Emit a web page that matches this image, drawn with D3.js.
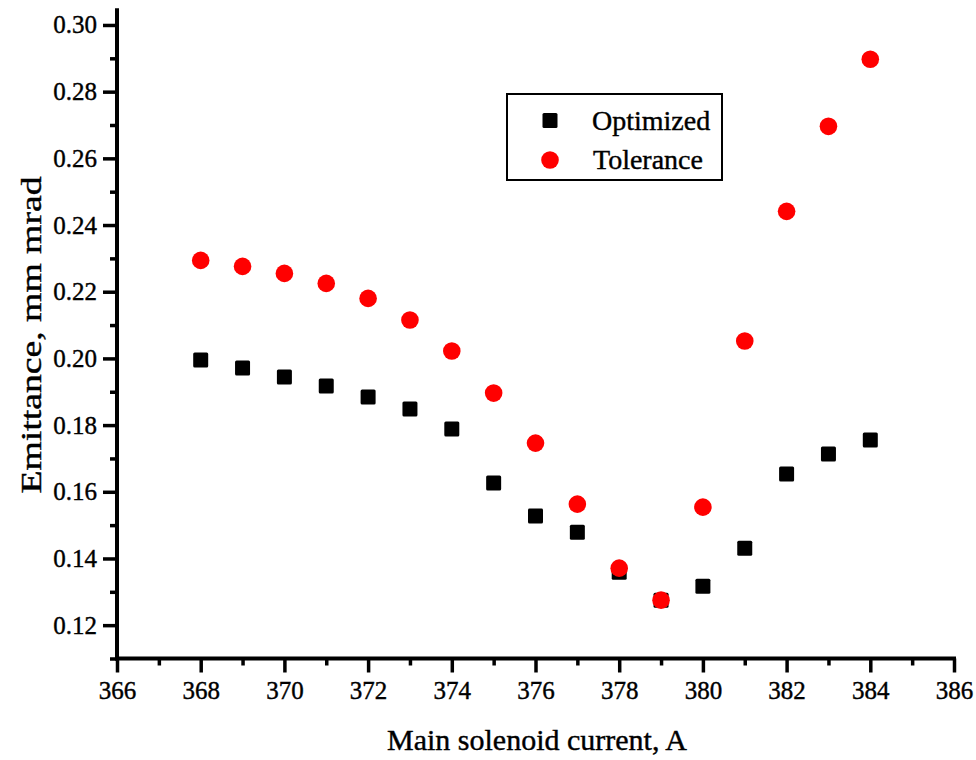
<!DOCTYPE html>
<html>
<head>
<meta charset="utf-8">
<script src="https://cdn.jsdelivr.net/npm/d3@7"></script>
<style>
  html, body { margin: 0; padding: 0; background: #fff; }
  svg { display: block; }
  text { font-family: "Liberation Serif", "Times New Roman", serif; fill: #000; stroke: #000; stroke-width: 0.4px; }
</style>
</head>
<body>
<svg id="chart" width="976" height="760"></svg>
<script>
const current = [368, 369, 370, 371, 372, 373, 374, 375, 376, 377, 378, 379, 380, 381, 382, 383, 384];
const optimized = [0.1995, 0.1971, 0.1944, 0.1917, 0.1884, 0.1848, 0.1788, 0.1626, 0.1527, 0.1479, 0.1359, 0.1275, 0.1317, 0.1431, 0.1653, 0.1713, 0.1755];
const tolerance = [0.2294, 0.2276, 0.2255, 0.2225, 0.2180, 0.2115, 0.2022, 0.1896, 0.1746, 0.1563, 0.1371, 0.1275, 0.1554, 0.2052, 0.2441, 0.2696, 0.2897];
const xMajorTicks = [366, 368, 370, 372, 374, 376, 378, 380, 382, 384, 386];
const xMinorTicks = [367, 369, 371, 373, 375, 377, 379, 381, 383, 385];
const yMajorTicks = [0.12, 0.14, 0.16, 0.18, 0.20, 0.22, 0.24, 0.26, 0.28, 0.30];
const yMinorTicks = [0.11, 0.13, 0.15, 0.17, 0.19, 0.21, 0.23, 0.25, 0.27, 0.29];
const seriesNames = ["Optimized", "Tolerance"];
const xTitle = "Main solenoid current, A";
const yTitle = "Emittance, mm mrad";

const svg = d3.select("#chart");
const x = d3.scaleLinear().domain([366, 386]).range([117, 954]);
const y = d3.scaleLinear().domain([0.11, 0.305]).range([658.5, 8.3]);

const x0 = x.range()[0], yBase = y.range()[0];

// Axes
const gx = svg.append("g").attr("transform", `translate(0,${yBase})`);
gx.call(d3.axisBottom(x).tickValues(xMajorTicks).tickSize(14).tickSizeOuter(0).tickPadding(9).tickFormat(d3.format("d")));
const gxm = svg.append("g").attr("transform", `translate(0,${yBase})`);
gxm.call(d3.axisBottom(x).tickValues(xMinorTicks).tickSize(7).tickSizeOuter(0).tickFormat(""));
gxm.select(".domain").remove();

const gy = svg.append("g").attr("transform", `translate(${x0},0)`);
gy.call(d3.axisLeft(y).tickValues(yMajorTicks).tickSize(14).tickSizeOuter(0).tickPadding(6).tickFormat(d3.format(".2f")));
const gym = svg.append("g").attr("transform", `translate(${x0},0)`);
gym.call(d3.axisLeft(y).tickValues(yMinorTicks).tickSize(7).tickSizeOuter(0).tickFormat(""));
gym.select(".domain").remove();

svg.selectAll(".domain").attr("stroke", "#000").attr("stroke-width", 4);
gx.select(".domain").attr("d", `M${x0 - 2},0H${x.range()[1] + 2}`);
gy.select(".domain").attr("d", `M0,${yBase + 2}V${y.range()[1]}`);
svg.selectAll(".tick line").attr("stroke", "#000").attr("stroke-width", 3.5);
svg.selectAll(".tick text")
  .style("font-family", '"Liberation Serif", "Times New Roman", serif')
  .style("font-size", "25px").attr("fill", "#000");

// Series: squares then circles on top
const sq = 15;
svg.append("g").selectAll("rect").data(current.map((c, i) => [c, optimized[i]])).join("rect")
  .attr("x", d => x(d[0]) - sq / 2).attr("y", d => y(d[1]) - sq / 2)
  .attr("width", sq).attr("height", sq).attr("rx", 1.5).attr("fill", "#000");
svg.append("g").selectAll("circle").data(current.map((c, i) => [c, tolerance[i]])).join("circle")
  .attr("cx", d => x(d[0])).attr("cy", d => y(d[1])).attr("r", 8.8).attr("fill", "#ff0000");

// Axis titles
svg.append("text").attr("x", 537).attr("y", 750).attr("text-anchor", "middle")
  .style("font-size", "30px").text(xTitle);
svg.append("text").attr("transform", "translate(41,335) rotate(-90) scale(1.3,1)")
  .attr("text-anchor", "middle").style("font-size", "29px").text(yTitle);

// Legend
const lg = svg.append("g");
lg.append("rect").attr("x", 507).attr("y", 94).attr("width", 215).attr("height", 86)
  .attr("fill", "#fff").attr("stroke", "#000").attr("stroke-width", 2);
lg.append("rect").attr("x", 550 - sq / 2).attr("y", 120.5 - sq / 2).attr("width", sq).attr("height", sq)
  .attr("rx", 1.5).attr("fill", "#000");
lg.append("circle").attr("cx", 550).attr("cy", 160).attr("r", 8.8).attr("fill", "#ff0000");
lg.append("text").attr("x", 592).attr("y", 130).style("font-size", "28px").text(seriesNames[0]);
lg.append("text").attr("x", 593).attr("y", 169).style("font-size", "28px").text(seriesNames[1]);
</script>
</body>
</html>
